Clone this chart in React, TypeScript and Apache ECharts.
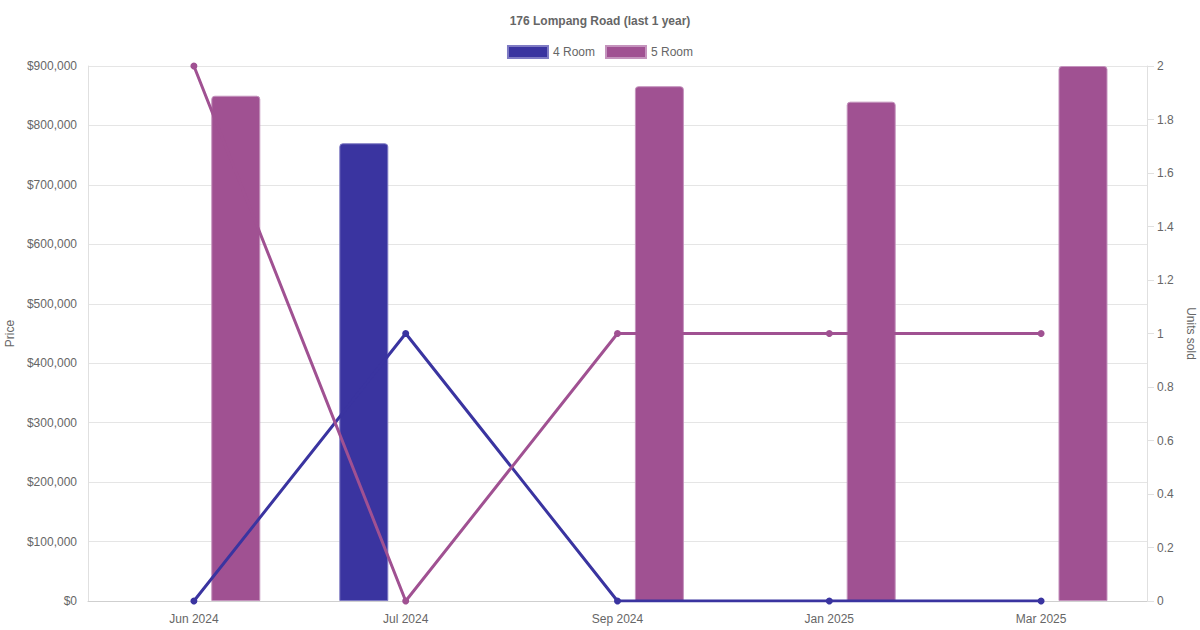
import { useEffect, useRef } from 'react';
import * as echarts from 'echarts';

const months = ['Jun 2024', 'Jul 2024', 'Sep 2024', 'Jan 2025', 'Mar 2025'];
const price4Room = [null, 770000, null, null, null];
const price5Room = [850000, null, 866000, 840000, 900000];
const units4Room = [0, 1, 0, 0, 0];
const units5Room = [2, 0, 1, 1, 1];

const BLUE = '#3a34a0';
const PURPLE = '#a05192';
const FONT = 'Liberation Sans, Arial, Helvetica, sans-serif';

export default function App() {
  const chartRef = useRef<HTMLDivElement>(null);

  useEffect(() => {
    if (!chartRef.current) return;
    const chart = echarts.init(chartRef.current, null, { renderer: 'svg' });

    const option: echarts.EChartsOption = {
      animation: false,
      backgroundColor: '#fff',
      textStyle: { fontFamily: FONT },
      title: {
        text: '176 Lompang Road (last 1 year)',
        left: 'center',
        top: 10,
        textStyle: { fontSize: 12, fontWeight: 'bold', color: '#666', fontFamily: FONT }
      },
      legend: {
        top: 40,
        left: 'center',
        itemWidth: 40,
        itemHeight: 12,
        itemGap: 10,
        textStyle: { fontSize: 12, color: '#666', fontFamily: FONT },
        data: [
          { name: '4 Room', icon: 'rect', itemStyle: { color: BLUE } },
          { name: '5 Room', icon: 'rect', itemStyle: { color: PURPLE } }
        ]
      },
      grid: { left: 88, right: 53, top: 66, bottom: 29, containLabel: false, outerBoundsMode: 'none' },
      xAxis: {
        type: 'category',
        data: months,
        axisLine: { lineStyle: { color: '#cfcfcf' } },
        axisTick: { show: false },
        axisLabel: { color: '#666', fontSize: 12, margin: 12, fontFamily: FONT },
        splitLine: { show: false }
      },
      yAxis: [
        {
          type: 'value',
          min: 0,
          max: 900000,
          interval: 100000,
          name: 'Price',
          nameLocation: 'middle',
          nameGap: 71,
          nameRotate: 90,
          nameTextStyle: { color: '#666', fontSize: 12, fontFamily: FONT },
          axisLine: { show: true, lineStyle: { color: '#e0e0e0' } },
          axisTick: { show: false },
          axisLabel: {
            color: '#666',
            fontSize: 12,
            margin: 11,
            fontFamily: FONT,
            formatter: (v: number) => '$' + v.toLocaleString('en-US')
          },
          splitLine: { lineStyle: { color: '#e5e5e5' } }
        },
        {
          type: 'value',
          position: 'right',
          min: 0,
          max: 2,
          interval: 0.2,
          name: 'Units sold',
          nameLocation: 'middle',
          nameGap: 36,
          nameRotate: -90,
          nameTextStyle: { color: '#666', fontSize: 12, fontFamily: FONT },
          axisLine: { show: true, lineStyle: { color: '#e0e0e0' } },
          axisTick: { show: true, length: 7, lineStyle: { color: '#e0e0e0' } },
          axisLabel: {
            color: '#666',
            fontSize: 12,
            margin: 10,
            fontFamily: FONT,
            formatter: (v: number) => String(+v.toFixed(1))
          },
          splitLine: { show: false }
        }
      ],
      series: [
        {
          name: '4 Room',
          type: 'bar',
          yAxisIndex: 0,
          data: price4Room,
          barWidth: 49,
          barGap: '71%',
          z: 2,
          itemStyle: { color: BLUE, borderColor: '#7f7bc4', borderWidth: 1, borderRadius: [3, 3, 0, 0] }
        },
        {
          name: '5 Room',
          type: 'bar',
          yAxisIndex: 0,
          data: price5Room,
          barWidth: 49,
          barGap: '71%',
          z: 2,
          itemStyle: { color: PURPLE, borderColor: '#c493bd', borderWidth: 1, borderRadius: [3, 3, 0, 0] }
        },
        {
          name: '4 Room',
          type: 'line',
          yAxisIndex: 1,
          data: units4Room,
          z: 3,
          symbol: 'circle',
          symbolSize: 7,
          lineStyle: { color: BLUE, width: 3 },
          itemStyle: { color: BLUE }
        },
        {
          name: '5 Room',
          type: 'line',
          yAxisIndex: 1,
          data: units5Room,
          z: 3,
          symbol: 'circle',
          symbolSize: 7,
          lineStyle: { color: PURPLE, width: 3 },
          itemStyle: { color: PURPLE }
        }
      ]
    };

    chart.setOption(option);
    return () => {
      chart.dispose();
    };
  }, []);

  return (
    <div
      ref={chartRef}
      style={{ position: 'fixed', left: 0, top: 0, width: '1200px', height: '630px' }}
    />
  );
}
